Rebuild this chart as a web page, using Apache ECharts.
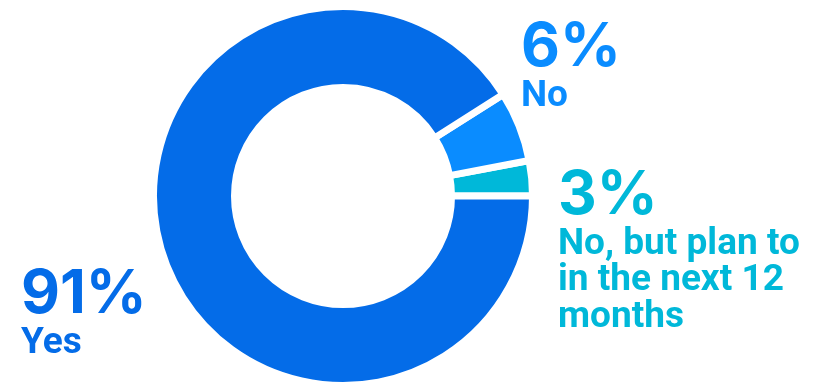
<!DOCTYPE html>
<html>
<head>
<meta charset="utf-8">
<script src="https://cdn.jsdelivr.net/npm/echarts@6/dist/echarts.min.js"></script>
<style>
html,body{margin:0;padding:0;background:#fff;}
#chart{width:819px;height:383px;}
</style>
</head>
<body>
<div id="chart"></div>
<script>
// Data
var categories = ['No, but plan to\nin the next 12\nmonths', 'No', 'Yes'];
var values = [3, 6, 91];
var colors = ['#00B8D9', '#0A8CFF', '#046CE8'];
// Label anchor positions (top-left of each label block)
var labelPos = [[558, 166], [521, 18], [21, 265]];

var chart = echarts.init(document.getElementById('chart'), null, {renderer: 'canvas'});
var data = categories.map(function (c, i) {
  return {
    name: c,
    value: values[i],
    itemStyle: {color: colors[i]},
    label: {
      rich: {
        p: {fontFamily: 'Inter', fontWeight: 'bold', fontSize: 60, lineHeight: 60, color: colors[i]},
        n: {fontFamily: 'Roboto', fontWeight: 'bold', fontSize: 37, lineHeight: 36.5, color: colors[i]}
      }
    }
  };
});

chart.setOption({
  animation: false,
  series: [{
    type: 'pie',
    center: [343, 196],
    radius: [108.5, 189.5],
    startAngle: 0,
    clockwise: false,
    avoidLabelOverlap: false,
    itemStyle: {borderColor: '#ffffff', borderWidth: 7},
    label: {
      show: true,
      position: 'outside',
      align: 'left',
      formatter: function (p) {
        var lines = p.name.split('\n').map(function (l) { return '{n|' + l + '}'; });
        return '{p|' + p.value + '%}\n' + lines.join('\n');
      }
    },
    labelLine: {show: false},
    labelLayout: function (params) {
      var pos = labelPos[params.dataIndex];
      return {x: pos[0], y: pos[1], align: 'left', verticalAlign: 'top'};
    },
    emphasis: {disabled: true},
    data: data
  }]
});
</script>
</body>
</html>
